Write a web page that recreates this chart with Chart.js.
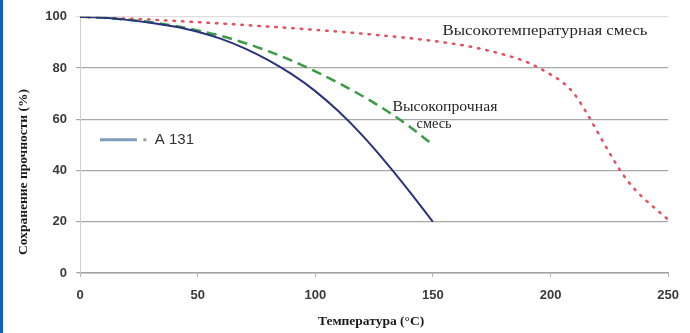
<!DOCTYPE html>
<html>
<head>
  <meta charset="UTF-8" />
  <title>Сохранение прочности</title>
  <script src="https://cdn.jsdelivr.net/npm/chart.js"></script>
  <style>
    body { margin: 0; background: #fff; }
    #wrap { width: 690px; height: 333px; box-sizing: border-box; border-left: 3px solid #0b62c4; position: relative; }
  </style>
</head>
<body>
<div id="wrap"><canvas id="strengthChart"></canvas></div>

<script>
  // температуры и значения
  const blueTemps = [0, 10, 20, 30, 40, 50, 60, 70, 80, 90, 100, 110, 120, 130, 140, 150];
  const blueValues = [100, 99.6, 98.8, 97.7, 96.2, 94.2, 91.4, 87.7, 83.1, 77.6, 71.0, 63.0, 53.7, 43.2, 31.9, 20];

  const greenTemps = [0, 10, 20, 30, 40, 50, 60, 70, 80, 90, 100, 110, 120, 130, 140, 150];
  const greenValues = [100, 99.6, 98.9, 97.9, 96.5, 94.7, 92.5, 89.8, 86.6, 82.9, 78.7, 74.1, 69.1, 63.5, 57.2, 50];

  const redTemps = [0, 25, 50, 75, 100, 125, 150, 165, 180, 190, 200, 205, 210, 215, 220, 225, 230, 235, 240, 245, 250];
  const redValues = [100, 99.1, 97.9, 96.5, 94.9, 93, 90.6, 88.5, 85.3, 82.3, 77.5, 74.5, 70, 63, 55, 47, 39.5, 33.5, 28.8, 24.8, 20.8];

  const xTicks = [0, 50, 100, 150, 200, 250];
  const yTicks = [0, 20, 40, 60, 80, 100];

  const seriesNames = ['A 131', 'Высокопрочная смесь', 'Высокотемпературная смесь'];

  const toPoints = (xs, ys) => xs.map((x, i) => ({ x: x, y: ys[i] }));

  // подписи на поле графика (в координатах данных)
  const notes = [
    { text: 'Высокотемпературная смесь', x: 154.1, y: 94.2, align: 'left', width: 205 },
    { text: 'Высокопрочная', x: 155.1, y: 64.7, align: 'center', width: 105 },
    { text: 'смесь', x: 150.5, y: 58.1, align: 'center', width: 35 }
  ];

  const textPlugin = {
    id: 'textPlugin',
    afterDraw(chart) {
      const ctx = chart.ctx;
      const xs = chart.scales.x;
      const ys = chart.scales.y;
      ctx.save();

      // подписи кривых, растянутые по ширине как на оригинале
      ctx.fillStyle = '#262626';
      ctx.font = '14px "Liberation Serif", "Times New Roman", serif';
      ctx.textBaseline = 'middle';
      notes.forEach(n => {
        const w = ctx.measureText(n.text).width;
        const k = n.width / w;
        let px = xs.getPixelForValue(n.x);
        const py = ys.getPixelForValue(n.y);
        if (n.align === 'center') px -= n.width / 2;
        ctx.save();
        ctx.translate(px, py);
        ctx.scale(k, 1);
        ctx.textAlign = 'left';
        ctx.fillText(n.text, 0, 0);
        ctx.restore();
      });

      // легенда внутри поля
      const ly = ys.getPixelForValue(52);
      const lx0 = xs.getPixelForValue(8.5);
      const lx1 = xs.getPixelForValue(24.2);
      ctx.strokeStyle = '#7f9cbc';
      ctx.lineWidth = 3;
      ctx.beginPath();
      ctx.moveTo(lx0, ly);
      ctx.lineTo(lx1, ly);
      ctx.stroke();
      ctx.fillStyle = '#9aa4ae';
      ctx.fillRect(xs.getPixelForValue(27.6) - 1.5, ly - 1.5, 3, 3);
      ctx.fillStyle = '#333';
      ctx.font = '15px "Liberation Sans", Arial, sans-serif';
      ctx.textAlign = 'left';
      ctx.fillText(seriesNames[0], xs.getPixelForValue(31.8), ly);

      // названия осей
      ctx.fillStyle = '#1a1a1a';
      ctx.font = 'bold 13.5px "Liberation Serif", "Times New Roman", serif';
      ctx.textAlign = 'center';
      ctx.fillText('Температура (°C)', (xs.left + xs.right) / 2 - 3, 322);
      ctx.save();
      ctx.translate(21, 172);
      ctx.rotate(-Math.PI / 2);
      ctx.fillText('Сохранение прочности (%)', 0, 0);
      ctx.restore();

      ctx.restore();
    }
  };

  const tickFont = { family: '"Liberation Sans", Arial, sans-serif', size: 13, weight: 'bold' };

  const chartConfig = {
    type: 'line',
    data: {
      datasets: [{
        label: seriesNames[0],
        data: toPoints(blueTemps, blueValues),
        borderColor: '#28337c',
        borderWidth: 2,
        pointRadius: 0,
        cubicInterpolationMode: 'monotone',
        fill: false
      }, {
        label: seriesNames[1],
        data: toPoints(greenTemps, greenValues),
        borderColor: '#3c9a45',
        borderWidth: 2.5,
        borderDash: [10, 6],
        pointRadius: 0,
        cubicInterpolationMode: 'monotone',
        fill: false
      }, {
        label: seriesNames[2],
        data: toPoints(redTemps, redValues),
        borderColor: '#e4505c',
        borderWidth: 2.5,
        borderDash: [1.5, 7],
        borderCapStyle: 'round',
        pointRadius: 0,
        cubicInterpolationMode: 'monotone',
        fill: false
      }]
    },
    options: {
      responsive: true,
      maintainAspectRatio: false,
      animation: false,
      layout: { padding: { top: 15, right: 21, bottom: 0, left: 0 } },
      plugins: {
        legend: { display: false },
        tooltip: { enabled: false }
      },
      scales: {
        x: {
          type: 'linear',
          min: 0,
          max: 250,
          afterFit: s => { s.height = 60; },
          afterBuildTicks: s => { s.ticks = xTicks.map(v => ({ value: v })); },
          border: { display: true, color: '#a3a3a3', width: 1.5 },
          grid: { drawOnChartArea: false, drawTicks: true, tickLength: 4, color: '#b5b5b5' },
          ticks: { font: tickFont, color: '#3a3a3a', padding: 11, maxRotation: 0 }
        },
        y: {
          min: 0,
          max: 100,
          afterFit: s => { s.width = 77; },
          afterBuildTicks: s => { s.ticks = yTicks.map(v => ({ value: v })); },
          border: { display: true, color: '#cfcfcf', width: 1 },
          grid: {
            color: ctx => ctx.tick && ctx.tick.value === 100 ? '#dedede' : '#a8a8a8',
            lineWidth: 1.2,
            tickLength: 4
          },
          ticks: { font: tickFont, color: '#3a3a3a', padding: 9 }
        }
      }
    },
    plugins: [textPlugin]
  };

  const strengthChart = new Chart(document.getElementById('strengthChart'), chartConfig);
</script>
</body>
</html>
